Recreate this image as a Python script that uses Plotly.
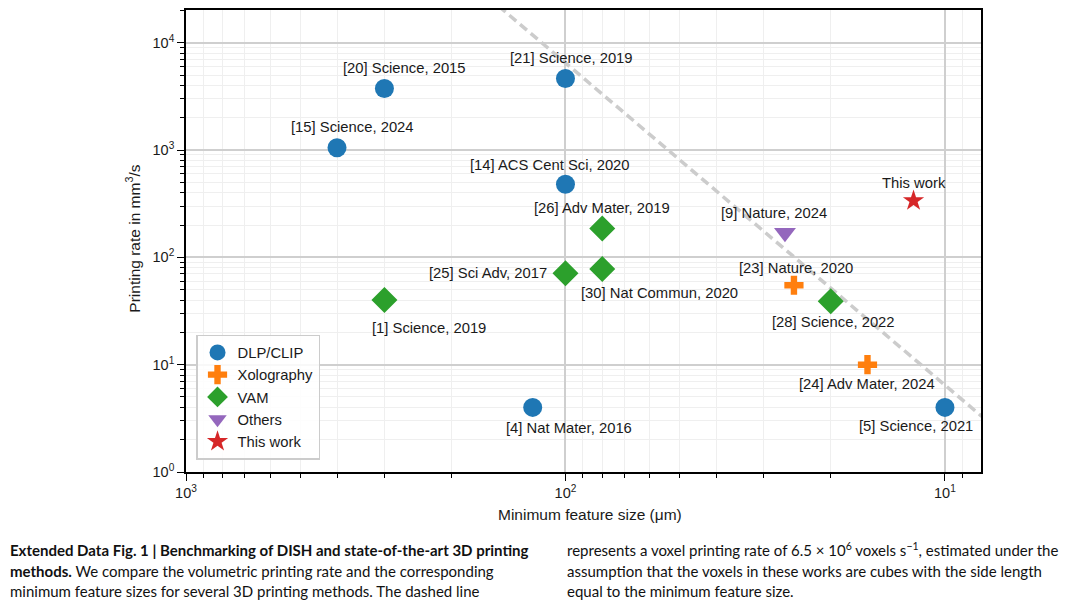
import math
import plotly.graph_objects as go

# ---------------- data ----------------
dlp_x = [300, 100, 400, 100, 122, 10]
dlp_y = [3750, 4650, 1050, 480, 4.0, 4.0]
dlp_labels = ["[20] Science, 2015", "[21] Science, 2019", "[15] Science, 2024",
              "[14] ACS Cent Sci, 2020", "[4] Nat Mater, 2016", "[5] Science, 2021"]

xolo_x = [25, 16]
xolo_y = [55, 10]
xolo_labels = ["[23] Nature, 2020", "[24] Adv Mater, 2024"]

vam_x = [300, 100, 80, 80, 20]
vam_y = [40, 71, 78, 186, 39]
vam_labels = ["[1] Science, 2019", "[25] Sci Adv, 2017", "[30] Nat Commun, 2020",
              "[26] Adv Mater, 2019", "[28] Science, 2022"]

others_x = [26.4]
others_y = [170]
others_labels = ["[9] Nature, 2024"]

this_x = [12.1]
this_y = [337]
this_labels = ["This work"]

# dashed reference line (6.5e6 voxels/s), end points
line_x = [160, 8]
line_y = [26600, 3.3]

ytick_vals = [1, 10, 100, 1000, 10000]
ytick_text = ["10<sup>0</sup>", "10<sup>1</sup>", "10<sup>2</sup>", "10<sup>3</sup>", "10<sup>4</sup>"]
xtick_vals = [10, 100, 1000]
xtick_text = ["10<sup>1</sup>", "10<sup>2</sup>", "10<sup>3</sup>"]

# ---------------- styling ----------------
C_BLUE, C_ORANGE, C_GREEN, C_PURPLE, C_RED = "#1f77b4", "#ff7f0e", "#2ca02c", "#9467bd", "#d62728"
FONT = "Liberation Sans, Arial, sans-serif"
CAP_FONT = "Lato, Noto Sans, sans-serif"
TXT = "#1a1a1a"

fig = go.Figure()

fig.add_trace(go.Scatter(x=line_x, y=line_y, mode="lines", showlegend=False,
                         line=dict(color="#cccccc", width=3.5, dash="9px,5px"),
                         hoverinfo="skip"))

series = [
    ("DLP/CLIP", dlp_x, dlp_y, "circle", C_BLUE, 19),
    ("Xolography", xolo_x, xolo_y, "cross", C_ORANGE, 16),
    ("VAM", vam_x, vam_y, "diamond", C_GREEN, 20),
    ("Others", others_x, others_y, "triangle-down", C_PURPLE, 19),
    ("This work", this_x, this_y, "star", C_RED, 16),
]
for name, xs, ys, sym, col, sz in series:
    fig.add_trace(go.Scatter(x=xs, y=ys, mode="markers", name=name,
                             marker=dict(symbol=sym, color=col, size=sz, line=dict(width=0))))

# label offsets (px): (dx, dy) relative to point, plus anchor
label_offsets = {
    "[20] Science, 2015": (20, -20, "center"),
    "[21] Science, 2019": (6, -20, "center"),
    "[15] Science, 2024": (15, -21, "center"),
    "[14] ACS Cent Sci, 2020": (-15, -19, "center"),
    "[4] Nat Mater, 2016": (36, 21, "center"),
    "[5] Science, 2021": (-29, 19, "center"),
    "[23] Nature, 2020": (2, -17, "center"),
    "[24] Adv Mater, 2024": (0, 19, "center"),
    "[1] Science, 2019": (45, 28, "center"),
    "[25] Sci Adv, 2017": (-16, 0, "right"),
    "[30] Nat Commun, 2020": (57, 24, "center"),
    "[26] Adv Mater, 2019": (0, -20, "center"),
    "[28] Science, 2022": (3, 21, "center"),
    "[9] Nature, 2024": (-11, -20, "center"),
    "This work": (0, -18, "center"),
}
for xs, ys, labs in [(dlp_x, dlp_y, dlp_labels), (xolo_x, xolo_y, xolo_labels),
                     (vam_x, vam_y, vam_labels), (others_x, others_y, others_labels),
                     (this_x, this_y, this_labels)]:
    for xv, yv, lab in zip(xs, ys, labs):
        dx, dy, anc = label_offsets[lab]
        fig.add_annotation(x=math.log10(xv), y=math.log10(yv),
                           text=lab, showarrow=False, xanchor=anc, yanchor="middle",
                           xshift=dx, yshift=-dy,
                           font=dict(family=FONT, size=14.8, color=TXT))

minor_vals = [m * 10 ** e for e in range(-1, 6) for m in range(2, 10)]

axis_common = dict(
    type="log", showline=True, linecolor="black", linewidth=1.6, mirror=True,
    ticks="outside", ticklen=7, tickwidth=1.4, tickcolor="black",
    showgrid=True, gridcolor="#cfcfcf", gridwidth=1.5, zeroline=False,
    tickfont=dict(family=FONT, size=14.5, color=TXT),
    minor=dict(ticks="outside", ticklen=4, tickwidth=1.0, tickcolor="black",
               tickmode="array", tickvals=minor_vals,
               showgrid=True, gridcolor="#efefef", gridwidth=1),
    tickmode="array",
)

fig.update_xaxes(**axis_common, tickvals=xtick_vals, ticktext=xtick_text,
                 range=[3, 0.905])
fig.update_yaxes(**axis_common, tickvals=ytick_vals, ticktext=ytick_text,
                 range=[0, 4.305])

# axis titles
fig.add_annotation(xref="paper", yref="paper", x=0.508, y=-0.093, text="Minimum feature size (μm)",
                   showarrow=False, xanchor="center", yanchor="middle",
                   font=dict(family=FONT, size=15.5, color=TXT))
fig.add_annotation(xref="paper", yref="paper", x=-0.0667, y=0.505, text="Printing rate in mm<sup>3</sup>/s",
                   showarrow=False, textangle=-90, xanchor="center", yanchor="middle",
                   font=dict(family=FONT, size=15.5, color=TXT))

# caption
def px_to_paper(px_x, px_y):
    return (px_x - 186) / 795, (472 - px_y) / 464

left_lines = [
    "<b>Extended Data Fig. 1 | Benchmarking of DISH and state-of-the-art 3D printing</b>",
    "<b>methods.</b> We compare the volumetric printing rate and the corresponding",
    "minimum feature sizes for several 3D printing methods. The dashed line",
]
right_lines = [
    "represents a voxel printing rate of 6.5 × 10<sup>6</sup> voxels s<sup>−1</sup>, estimated under the",
    "assumption that the voxels in these works are cubes with the side length",
    "equal to the minimum feature size.",
]
line_ys = [550, 571, 592]
for col_x, lines in [(8, left_lines), (565, right_lines)]:
    for ly, txt in zip(line_ys, lines):
        px, py = px_to_paper(col_x, ly)
        fig.add_annotation(xref="paper", yref="paper", x=px, y=py, text=txt, showarrow=False,
                           xanchor="left", yanchor="middle",
                           font=dict(family=CAP_FONT, size=15, color="#111111"))

fig.update_layout(
    width=1080, height=605,
    margin=dict(l=186, r=99, t=8, b=133),
    paper_bgcolor="white", plot_bgcolor="white",
    legend=dict(x=0.0126, y=0.297, xanchor="left", yanchor="top",
                bgcolor="rgba(255,255,255,0.85)", bordercolor="#cccccc", borderwidth=1.5,
                font=dict(family=FONT, size=14.8, color=TXT),
                itemsizing="trace", tracegroupgap=0),
    showlegend=True,
)

fig.write_html("out.html", config={"displayModeBar": False},
               post_script="document.body.style.margin='0';document.body.style.overflow='hidden';")
